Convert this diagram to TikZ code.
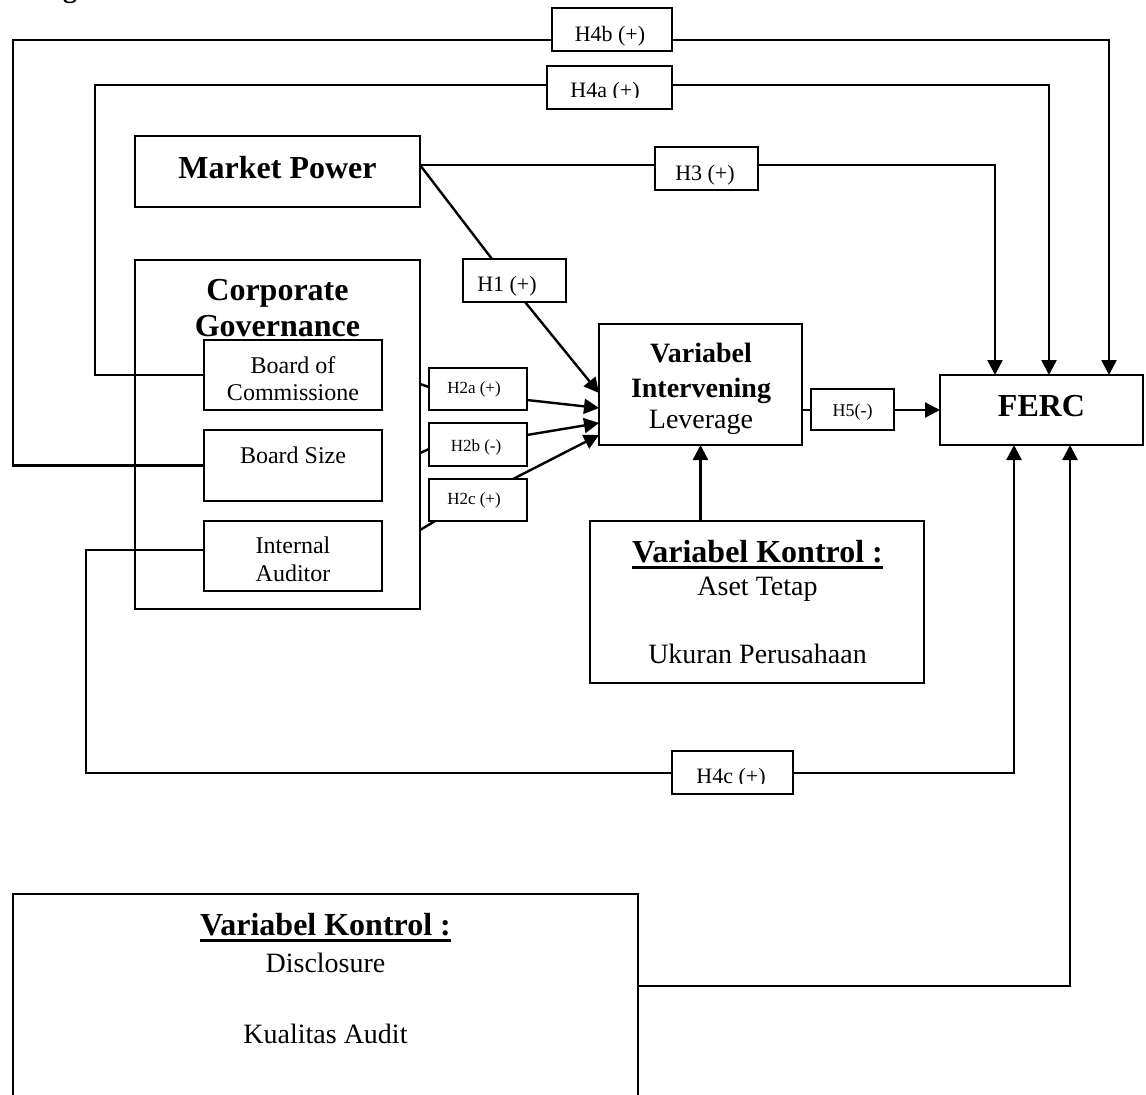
\documentclass[tikz,border=0pt]{standalone}
\usepackage{fontspec}
\setmainfont{Liberation Serif}
\usetikzlibrary{arrows.meta,calc}
\pgfdeclarelayer{bg}
\pgfsetlayers{bg,main}
\newcommand\myfz[1]{\fontsize{#1}{#1}\selectfont}
\newcommand\myul[1]{\sbox0{#1}\rlap{\rule[-6.5pt]{\wd0}{3pt}}\usebox0}
\begin{document}
\begin{tikzpicture}[x=1pt, y=-1pt,
  box/.style={draw, line width=2.2pt, inner sep=0pt, outer sep=0pt},
  lab/.style={box, fill=white},
  txt/.style={inner sep=0pt, anchor=base},
  conn/.style={line width=2.4pt},
  arr/.style={conn, -{Triangle[length=15pt,width=15pt]}}]
\useasboundingbox (0,0) rectangle (1146,1095);
\node[txt] (gfrag) at (70,-3) {\myfz{28}\bfseries g};

% main boxes
\node[box, minimum width=285pt, minimum height=71pt] (mp) at (277.5,171.5) {};
\node[txt] (mpt) at (277.5,178) {\myfz{32}\bfseries Market Power};

\node[box, minimum width=285pt, minimum height=349pt] (cg) at (277.5,434.5) {};
\node[txt] (cgt1) at (277.5,300) {\myfz{32}\bfseries Corporate};
\node[txt] (cgt2) at (277.5,336) {\myfz{32}\bfseries Governance};

\node[box, minimum width=178pt, minimum height=70pt] (boc) at (293,375) {};
\node[txt] (boct1) at (293,373) {\myfz{24}Board of};
\node[txt] (boct2) at (293,400) {\myfz{24}Commissione};

\node[box, minimum width=178pt, minimum height=71pt] (bs) at (293,465.5) {};
\node[txt] (bst) at (293,463) {\myfz{24}Board Size};

\node[box, minimum width=178pt, minimum height=70pt] (ia) at (293,556) {};
\node[txt] (iat1) at (293,553) {\myfz{24}Internal};
\node[txt] (iat2) at (293,581) {\myfz{24}Auditor};

\node[box, minimum width=203pt, minimum height=121pt] (int) at (700.5,384.5) {};
\node[txt] (intt1) at (701,362) {\myfz{28}\bfseries Variabel};
\node[txt] (intt2) at (701,397) {\myfz{28}\bfseries Intervening};
\node[txt] (intt3) at (701,428) {\myfz{28}Leverage};

\node[box, minimum width=203pt, minimum height=70pt] (ferc) at (1041.5,410) {};
\node[txt] (fercT) at (1041.5,416) {\myfz{32}\bfseries FERC};

\node[box, minimum width=334pt, minimum height=162pt] (vk1) at (757,602) {};
\node[txt] (vk1t1) at (757.5,562) {\myfz{32}\bfseries\myul{Variabel Kontrol :}};
\node[txt] (vk1t2) at (757.5,595) {\myfz{28}Aset Tetap};
\node[txt] (vk1t3) at (757.5,663) {\myfz{28}Ukuran Perusahaan};

\node[box, minimum width=625pt, minimum height=206pt] (vk2) at (325.5,997) {};
\node[txt] (vk2t1) at (325.5,935) {\myfz{32}\bfseries\myul{Variabel Kontrol :}};
\node[txt] (vk2t2) at (325.5,972) {\myfz{28}Disclosure};
\node[txt] (vk2t3) at (325.5,1043) {\myfz{28}Kualitas Audit};

% label boxes
\node[lab, minimum width=103pt, minimum height=43pt] (h1) at (514.5,280.5) {};
\node[txt] (h1t) at (507,291) {\myfz{22}H1 (+)};
\node[lab, minimum width=103pt, minimum height=43pt] (h3) at (706.5,168.5) {};
\node[txt] (h3t) at (705,180) {\myfz{22}H3 (+)};
\node[lab, minimum width=120pt, minimum height=43pt] (h4b) at (612,29.5) {};
\node[txt] (h4bt) at (610,41) {\myfz{22}H4b (+)};
\node[lab, minimum width=125pt, minimum height=43pt] (h4a) at (609.5,87.5) {};
\begin{scope}
\clip (548,60) rectangle (671,97.5);
\node[txt] (h4at) at (605,97) {\myfz{22}H4a (+)};
\end{scope}
\node[lab, minimum width=121pt, minimum height=43pt] (h4c) at (732.5,772.5) {};
\begin{scope}
\clip (673,745) rectangle (792,783.5);
\node[txt] (h4ct) at (731,783) {\myfz{22}H4c (+)};
\end{scope}
\node[lab, minimum width=98pt, minimum height=42pt] (h2a) at (478,389) {};
\node[txt] (h2at) at (474,393) {\myfz{17}H2a (+)};
\node[lab, minimum width=98pt, minimum height=43pt] (h2b) at (478,444.5) {};
\node[txt] (h2bt) at (476,451) {\myfz{17}H2b (-)};
\node[lab, minimum width=98pt, minimum height=42pt] (h2c) at (478,500) {};
\node[txt] (h2ct) at (474,504) {\myfz{17}H2c (+)};
\node[lab, minimum width=83pt, minimum height=41pt] (h5) at (852.5,409.5) {};
\node[txt] (h5t) at (852.5,416) {\myfz{18}H5(-)};

\coordinate (c4a) at (95,85);
\coordinate (c4b) at (13,40);
\coordinate (c4c) at (86,773);

\begin{pgfonlayer}{bg}
\draw[arr] ([yshift=6.5pt]mp.east) -| ([xshift=-46.5pt]ferc.north);
\draw[arr] (boc.west) -| (c4a) -| ([xshift=7.5pt]ferc.north);
\draw[arr] (bs.west) -| (c4b) -| ([xshift=67.5pt]ferc.north);
\draw[arr] ([yshift=6pt]ia.west) -| (c4c) -| ([xshift=-27.5pt]ferc.south);
\draw[arr] ([yshift=11pt]vk2.east) -| ([xshift=28.5pt]ferc.south);
\draw[arr] (int.south |- vk1.north) -- (int.south);
\draw[arr] (int.east |- ferc.west) -- (ferc.west);
\draw[conn] ([yshift=6.5pt]mp.east) -- ([xshift=-22.5pt]h1.north);
\draw[arr] ([xshift=10.5pt]h1.south) -- ([yshift=-8.5pt]int.west);
\draw[conn] ([yshift=50.5pt]cg.east) -- ([yshift=2pt]h2a.west);
\draw[arr] ([yshift=-11pt]h2a.east) -- ([yshift=-23.5pt]int.west);
\draw[conn] ([yshift=-18.5pt]cg.east) -- ([yshift=-4.5pt]h2b.west);
\draw[arr] ([yshift=9.5pt]h2b.east) -- ([yshift=-38.5pt]int.west);
\draw[conn] ([yshift=-95.5pt]cg.east) -- ([xshift=6pt]h2c.south west);
\draw[arr] ([xshift=35pt]h2c.north) -- ([yshift=-50.5pt]int.west);
\end{pgfonlayer}
\end{tikzpicture}
\end{document}
